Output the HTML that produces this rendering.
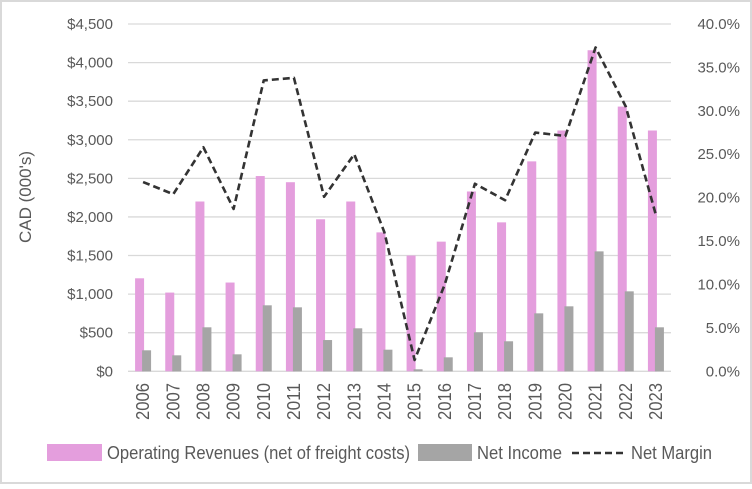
<!DOCTYPE html>
<html><head><meta charset="utf-8"><style>
html,body{margin:0;padding:0;background:#fff}
svg text{font-family:"Liberation Sans",sans-serif;fill:#595959}
.n{font-family:"Liberation Sans Narrow","Liberation Sans",sans-serif}
</style></head><body>
<svg width="752" height="484" xmlns="http://www.w3.org/2000/svg">
<rect x="1" y="1" width="750" height="482" fill="#fff" stroke="#d9d9d9" stroke-width="2"/>
<g id="grid"></g><g id="bars"></g><g id="line"></g><g id="axes"></g>
<text x="31" y="197" font-size="17" text-anchor="middle" transform="rotate(-90 31 197)">CAD (000's)</text>
<g font-size="18">
<rect x="47" y="444" width="55" height="17" fill="#e49edd"/>
<text class="n" x="107" y="459" textLength="303" lengthAdjust="spacingAndGlyphs">Operating Revenues (net of freight costs)</text>
<rect x="418" y="444" width="54" height="17" fill="#a5a5a5"/>
<text class="n" x="477" y="459" textLength="85" lengthAdjust="spacingAndGlyphs">Net Income</text>
<line x1="572" y1="453" x2="626" y2="453" stroke="#333" stroke-width="2.5" stroke-dasharray="7,4"/>
<text class="n" x="631" y="459" textLength="81" lengthAdjust="spacingAndGlyphs">Net Margin</text>
</g>
</svg>
<script>
const years=["2006","2007","2008","2009","2010","2011","2012","2013","2014","2015","2016","2017","2018","2019","2020","2021","2022","2023"];
const revenue=[1205,1020,2200,1150,2530,2450,1970,2200,1800,1500,1680,2330,1930,2720,3120,4160,3430,3120];
const netIncome=[272,207,570,220,855,829,405,557,280,26,181,505,389,751,842,1554,1036,570];
const netMargin=[21.8,20.4,25.8,18.7,33.5,33.8,20.1,25.0,16.0,1.3,10.0,21.6,19.7,27.5,27.1,37.3,30.5,18.0];
const leftTicks=[0,500,1000,1500,2000,2500,3000,3500,4000,4500];
const leftLabels=["$0","$500","$1,000","$1,500","$2,000","$2,500","$3,000","$3,500","$4,000","$4,500"];
const rightTicks=[0,5,10,15,20,25,30,35,40];
const rightLabels=["0.0%","5.0%","10.0%","15.0%","20.0%","25.0%","30.0%","35.0%","40.0%"];
const NS="http://www.w3.org/2000/svg";
const L=128,R=671,T=24,B=371.3;
const yL=v=>B-(v/4500)*(B-T);
const yR=v=>B-(v/40)*(B-T);
const step=(R-L)/years.length;
const xC=i=>L+step*(i+0.5);
function mk(tag,attrs,parent){const e=document.createElementNS(NS,tag);for(const k in attrs)e.setAttribute(k,attrs[k]);parent.appendChild(e);return e;}
const grid=document.getElementById('grid'),bars=document.getElementById('bars'),line=document.getElementById('line'),axes=document.getElementById('axes');
leftTicks.forEach((t,i)=>{
  const g=mk('line',{x1:L,x2:R,y1:yL(t),y2:yL(t),stroke:'#d9d9d9','stroke-width':1.3},grid);
  
  
  const tx=mk('text',{x:113,y:yL(t)+5,'font-size':15,'text-anchor':'end'},axes);
  tx.textContent=leftLabels[i];
  
  
});
rightTicks.forEach((t,i)=>{
  const tx=mk('text',{x:740,y:yR(t)+5,'font-size':15,'text-anchor':'end'},axes);
  tx.textContent=rightLabels[i];
  
  
});
years.forEach((y,i)=>{
  const c=xC(i);
  const r=mk('rect',{x:c-8,y:yL(revenue[i]),width:9,height:B-yL(revenue[i]),fill:'#e49edd'},bars);
  
  
  const n=mk('rect',{x:c-1,y:yL(netIncome[i]),width:9,height:B-yL(netIncome[i]),fill:'#a5a5a5'},bars);
  
  
  const tx=mk('text',{x:0,y:0,'font-size':18,'text-anchor':'end','class':'n',textLength:37,lengthAdjust:'spacingAndGlyphs',transform:`translate(${c+6},383) rotate(-90)`},axes);
  tx.textContent=y;
  
  
});
const pts=netMargin.map((v,i)=>xC(i)+','+yR(v)).join(' ');
const pl=mk('polyline',{points:pts,fill:'none',stroke:'#333','stroke-width':2.6,'stroke-dasharray':'7,4','stroke-linejoin':'round'},line);


</script>
</body></html>
